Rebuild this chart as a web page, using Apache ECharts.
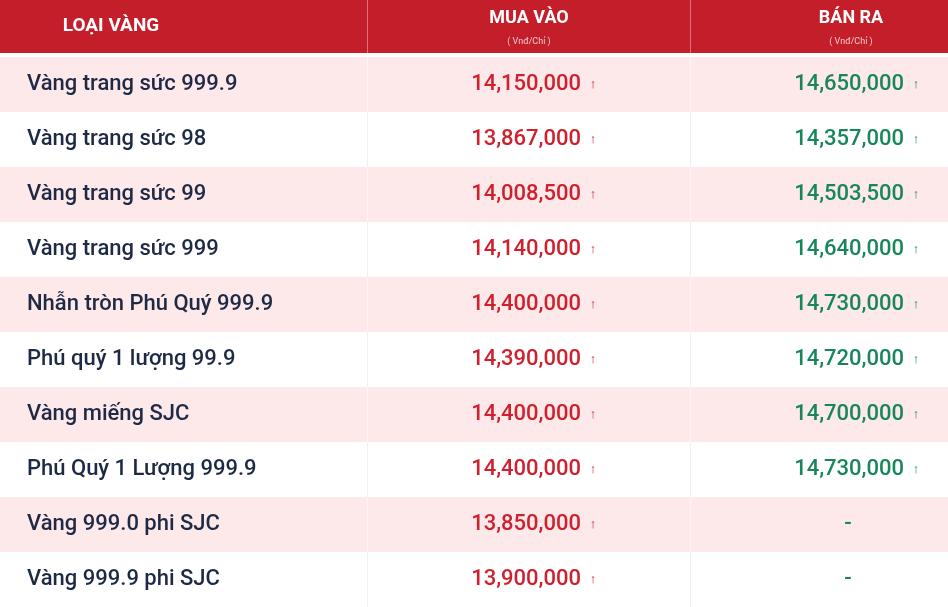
<!DOCTYPE html>
<html><head><meta charset="utf-8">
<script src="https://cdn.jsdelivr.net/npm/echarts@6/dist/echarts.min.js"></script>
<style>html,body{margin:0;padding:0;background:#fff}#c{width:948px;height:607px}</style>
</head><body><div id="c"></div>
<script>
const categories = ["Vàng trang sức 999.9","Vàng trang sức 98","Vàng trang sức 99","Vàng trang sức 999","Nhẫn tròn Phú Quý 999.9","Phú quý 1 lượng 99.9","Vàng miếng SJC","Phú Quý 1 Lượng 999.9","Vàng 999.0 phi SJC","Vàng 999.9 phi SJC"];
const buyValues = [14150000,13867000,14008500,14140000,14400000,14390000,14400000,14400000,13850000,13900000];
const sellValues = [14650000,14357000,14503500,14640000,14730000,14720000,14700000,14730000,null,null];
const headers = ["LOẠI VÀNG","MUA VÀO","BÁN RA"];
const unitLabel = "( Vnđ/Chỉ )";

const fmt = v => v.toLocaleString('en-US');
const F = 'Roboto, "Noto Sans", sans-serif';
const chart = echarts.init(document.getElementById('c'));
chart.setOption({
  animation:false,
  grid:{left:0,right:0,top:57,bottom:0},
  xAxis:{type:'value',min:0,max:948,show:false},
  yAxis:{type:'category',data:categories,inverse:true,show:false},
  graphic:[
    {type:'rect',shape:{x:0,y:0,width:948,height:53},style:{fill:'#c41e2a'}},
    {type:'rect',shape:{x:367,y:0,width:1,height:53},style:{fill:'#e07078'}},
    {type:'rect',shape:{x:690,y:0,width:1,height:53},style:{fill:'#e07078'}},
    {type:'text',x:111,y:26,style:{text:headers[0],fill:'#fff',font:'bold 19px '+F,align:'center',verticalAlign:'middle'}},
    {type:'text',x:529,y:18,style:{text:headers[1],fill:'#fff',font:'bold 18px '+F,align:'center',verticalAlign:'middle'}},
    {type:'text',x:529,y:42,style:{text:unitLabel,fill:'#f4c8cc',font:'9px '+F,align:'center',verticalAlign:'middle'}},
    {type:'text',x:851,y:18,style:{text:headers[2],fill:'#fff',font:'bold 18px '+F,align:'center',verticalAlign:'middle'}},
    {type:'text',x:851,y:42,style:{text:unitLabel,fill:'#f4c8cc',font:'9px '+F,align:'center',verticalAlign:'middle'}}
  ],
  series:[{
    type:'custom',
    data:categories.map((c,i)=>[0,i]),
    renderItem:(params,api)=>{
      const i = params.dataIndex;
      const cs = params.coordSys;
      const yc = api.coord([0,i])[1];
      const h = api.size([0,1])[1];
      const top = yc - h/2;
      const X = v => api.coord([v,i])[0];
      const children = [
        {type:'rect',shape:{x:cs.x,y:top,width:cs.width,height:h},style:{fill:i%2===0?'#fde8ea':'#ffffff'}},
        {type:'rect',shape:{x:X(367),y:top,width:1,height:h},style:{fill:i%2===0?'#fff4f5':'#f0f0f0'}},
        {type:'rect',shape:{x:X(690),y:top,width:1,height:h},style:{fill:i%2===0?'#fff4f5':'#f0f0f0'}},
        {type:'text',x:X(27),y:yc,style:{text:categories[i],fill:'#1e2a45',font:'500 22px '+F,verticalAlign:'middle'}},
        {type:'text',x:X(581),y:yc,style:{text:fmt(buyValues[i]),fill:'#d0202e',font:'500 22px '+F,align:'right',verticalAlign:'middle'}},
        {type:'text',x:X(593),y:yc,style:{text:'↑',fill:'#d0202e',font:'bold 13px '+F,align:'center',verticalAlign:'middle'}}
      ];
      if (sellValues[i]!=null){
        children.push({type:'text',x:X(904),y:yc,style:{text:fmt(sellValues[i]),fill:'#17875a',font:'500 22px '+F,align:'right',verticalAlign:'middle'}});
        children.push({type:'text',x:X(916),y:yc,style:{text:'↑',fill:'#17875a',font:'bold 13px '+F,align:'center',verticalAlign:'middle'}});
      } else {
        children.push({type:'text',x:X(848),y:yc,style:{text:'-',fill:'#17875a',font:'500 22px '+F,align:'center',verticalAlign:'middle'}});
      }
      return {type:'group',children};
    }
  }]
});
</script></body></html>
